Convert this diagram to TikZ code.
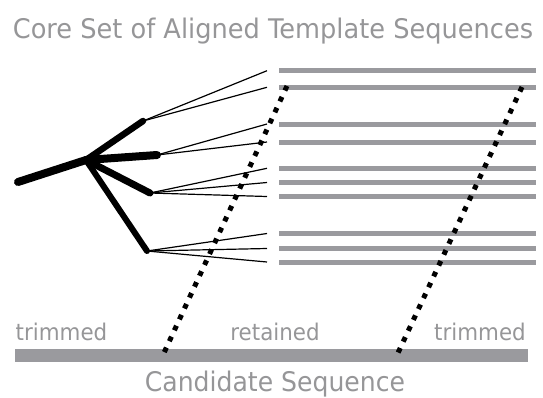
\documentclass[tikz,border=0pt]{standalone}
\usepackage{fontspec}
\setmainfont{DejaVu Sans}
\newfontfamily\narrowsans[FakeStretch=0.93]{DejaVu Sans}
\newfontfamily\titlesans[FakeStretch=0.95]{DejaVu Sans}
\definecolor{bargray}{RGB}{154,154,158}
\definecolor{txtgray}{RGB}{150,150,152}
\begin{document}
\begin{tikzpicture}[x=1pt,y=-1pt,
  bar/.style={draw=bargray,line width=5pt},
  cand/.style={draw=bargray,line width=13pt},
  trunk/.style={draw=black,line cap=round,line width=#1},
  twig/.style={draw=black,line width=1.2pt},
  cut/.style={draw=black,line width=5pt,dash pattern=on 5pt off 7pt},
  lbl/.style={text=txtgray,anchor=base,inner sep=0pt,font=\narrowsans\fontsize{27}{30}\selectfont},
  tlbl/.style={text=txtgray,anchor=base,inner sep=0pt,font=\titlesans\fontsize{27}{30}\selectfont},
  slbl/.style={text=txtgray,anchor=base,inner sep=0pt,font=\narrowsans\fontsize{23}{27}\selectfont}]
\useasboundingbox (0,0) rectangle (543,397);
% template bars
\foreach \i/\y in {1/70.7,2/87.3,3/124,4/142,5/168.3,6/182.5,7/196.5,8/233.5,9/248.5,10/262}{
  \coordinate (b\i) at (279,\y);
  \coordinate (e\i) at (536,\y);
  \coordinate (l\i) at (267,\y);
  \draw[bar] (b\i) -- (e\i);
}
% candidate
\coordinate (c1) at (15,355);
\coordinate (c2) at (528,355);
\draw[cand] (c1) -- (c2);
% tree
\coordinate (root) at (18,182);
\coordinate (hub) at (86,160);
\coordinate (t1) at (143,121);
\coordinate (t2) at (157,155);
\coordinate (t3) at (150,193);
\coordinate (t4) at (147,251);
\foreach \a/\b in {t1/1,t1/2,t2/3,t2/4,t3/5,t3/6,t3/7,t4/8,t4/9,t4/10}{
  \draw[twig] (\a) -- (l\b);
}
\draw[trunk=8pt] (root) -- (hub);
\draw[trunk=6.5pt] (hub) -- (t1);
\draw[trunk=8pt] (hub) -- (t2);
\draw[trunk=7pt] (hub) -- (t3);
\draw[trunk=6pt] (hub) -- (t4);
% cut lines
\coordinate (p1) at (287,86);
\coordinate (q1) at (163,355);
\coordinate (p2) at (522,87);
\coordinate (q2) at (397,355);
\draw[cut] (p1) -- (q1);
\draw[cut] (p2) -- (q2);
% labels
\node[tlbl] (title) at (273,38.5) {Core Set of Aligned Template Sequences};
\node[lbl] (cs) at (275,391.5) {Candidate Sequence};
\node[slbl] (tl) at (61.5,340) {trimmed};
\node[slbl] (rt) at (275,340) {retained};
\node[slbl] (tr) at (480,340) {trimmed};
\end{tikzpicture}
\end{document}
